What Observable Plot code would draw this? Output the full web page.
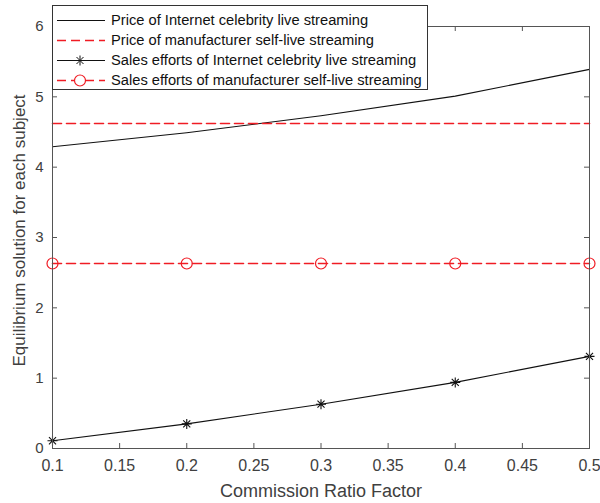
<!DOCTYPE html>
<html><head><meta charset="utf-8">
<script src="https://cdn.jsdelivr.net/npm/d3@7"></script>
<script src="https://cdn.jsdelivr.net/npm/@observablehq/plot@0.6"></script>
<style>
body{margin:0;background:#fff;font-family:"Liberation Sans",Arial,sans-serif;}
#wrap{position:relative;width:600px;height:503px;}
#legend{position:absolute;left:52px;top:5px;width:376px;height:85px;border:1px solid #333;background:#fff;box-sizing:border-box;}
.row{position:absolute;left:0;height:20px;display:flex;align-items:center;font-size:14.7px;color:#111;white-space:nowrap;}
.row svg{display:block;}
.row span{margin-left:2px;}
</style></head>
<body><div id="wrap"><div id="chart"></div><div id="legend"></div></div>
<script>
// ---- data ----
const ratio = [0.1, 0.2, 0.3, 0.4, 0.5];
const priceCelebrity = [4.29, 4.49, 4.73, 5.01, 5.39];
const priceManufacturer = [4.62, 4.62, 4.62, 4.62, 4.62];
const effortCelebrity = [0.11, 0.35, 0.63, 0.94, 1.31];
const effortManufacturer = [2.63, 2.63, 2.63, 2.63, 2.63];
const seriesNames = [
  "Price of Internet celebrity live streaming",
  "Price of manufacturer self-live streaming",
  "Sales efforts of Internet celebrity live streaming",
  "Sales efforts of manufacturer self-live streaming"
];
const xTicks = [0.1, 0.15, 0.2, 0.25, 0.3, 0.35, 0.4, 0.45, 0.5];
const yTicks = [0, 1, 2, 3, 4, 5, 6];
const xLabel = "Commission Ratio Factor";
const yLabel = "Equilibrium solution for each subject";

// ---- build ----
const RED = "#f01c24", BLACK = "#111", AXIS = "#555";
const W = 600, H = 503, mL = 52, mR = 11, mT = 26, mB = 55;
const innerH = H - mT - mB, innerW = W - mL - mR;
const rows = (ys) => ratio.map((x, i) => ({x, y: ys[i]}));

const asterisk = {
  draw(ctx, size) {
    const r = Math.sqrt(size / Math.PI), d = r * Math.SQRT1_2;
    ctx.moveTo(-r, 0); ctx.lineTo(r, 0);
    ctx.moveTo(0, -r); ctx.lineTo(0, r);
    ctx.moveTo(-d, -d); ctx.lineTo(d, d);
    ctx.moveTo(-d, d); ctx.lineTo(d, -d);
  }
};

const chart = Plot.plot({
  width: W, height: H,
  marginLeft: mL, marginRight: mR, marginTop: mT, marginBottom: mB,
  style: {fontFamily: "Liberation Sans, Arial, sans-serif", fontSize: "15px", color: "#404040", background: "white"},
  x: {domain: [0.1, 0.5]},
  y: {domain: [0, 6]},
  marks: [
    Plot.tickX(xTicks, {x: d => d, stroke: AXIS, insetTop: innerH - 5}),
    Plot.tickX(xTicks, {x: d => d, stroke: AXIS, insetBottom: innerH - 5}),
    Plot.tickY(yTicks, {y: d => d, stroke: AXIS, insetRight: innerW - 5}),
    Plot.tickY(yTicks, {y: d => d, stroke: AXIS, insetLeft: innerW - 5}),
    Plot.axisX({ticks: xTicks, tickSize: 0, tickPadding: 11, tickFormat: d => String(+d.toFixed(2)),
      fontSize: 16, label: null}),
    Plot.axisX({ticks: [], tickSize: 0, fontSize: 18,
      label: xLabel, labelAnchor: "center", labelArrow: "none", labelOffset: 48}),
    Plot.axisY({ticks: yTicks, tickSize: 0, tickPadding: 9, tickFormat: d => String(d), label: null}),
    Plot.text([yLabel], {frameAnchor: "left", textAnchor: "middle", lineAnchor: "middle", rotate: -90,
      dx: -33, dy: -7, fontSize: 17, fill: "#404040"}),
    Plot.line(rows(priceCelebrity), {x: "x", y: "y", stroke: BLACK, strokeWidth: 1.1}),
    Plot.line(rows(priceManufacturer), {x: "x", y: "y", stroke: RED, strokeWidth: 1.6, strokeDasharray: "9,5"}),
    Plot.line(rows(effortCelebrity), {x: "x", y: "y", stroke: BLACK, strokeWidth: 1.1}),
    Plot.dot(rows(effortCelebrity), {x: "x", y: "y", symbol: asterisk, r: 5, stroke: BLACK, strokeWidth: 1.1}),
    Plot.line(rows(effortManufacturer), {x: "x", y: "y", stroke: RED, strokeWidth: 1.6, strokeDasharray: "9,5"}),
    Plot.dot(rows(effortManufacturer), {x: "x", y: "y", symbol: "circle", r: 5.5, stroke: RED, fill: "none", strokeWidth: 1.2}),
    Plot.frame({stroke: AXIS})
  ]
});
document.getElementById("chart").append(chart);

// ---- legend ----
const legend = document.getElementById("legend");
const samples = [
  {stroke: BLACK, dash: null, marker: null},
  {stroke: RED, dash: "9,5", marker: null},
  {stroke: BLACK, dash: null, marker: "star"},
  {stroke: RED, dash: "9,5", marker: "circle"}
];
seriesNames.forEach((name, i) => {
  const s = samples[i];
  const row = document.createElement("div");
  row.className = "row";
  row.style.top = (4 + i * 20) + "px";
  let m = "";
  if (s.marker === "star") {
    m = `<path d="M22,10.5h10M27,5.5v10M23.5,7l7,7M23.5,14l7,-7" stroke="${s.stroke}" fill="none"/>`;
  } else if (s.marker === "circle") {
    m = `<circle cx="27" cy="10.5" r="5.5" stroke="${s.stroke}" stroke-width="1.2" fill="white"/>`;
  }
  const sw = s.dash ? 1.5 : 1.1;
  row.innerHTML = `<svg width="56" height="20"><line x1="4" x2="52" y1="10.5" y2="10.5" stroke="${s.stroke}" stroke-width="${sw}" ${s.dash ? `stroke-dasharray="${s.dash}"` : ""}/>${m}</svg><span>${name}</span>`;
  legend.append(row);
});
</script>
</body></html>
